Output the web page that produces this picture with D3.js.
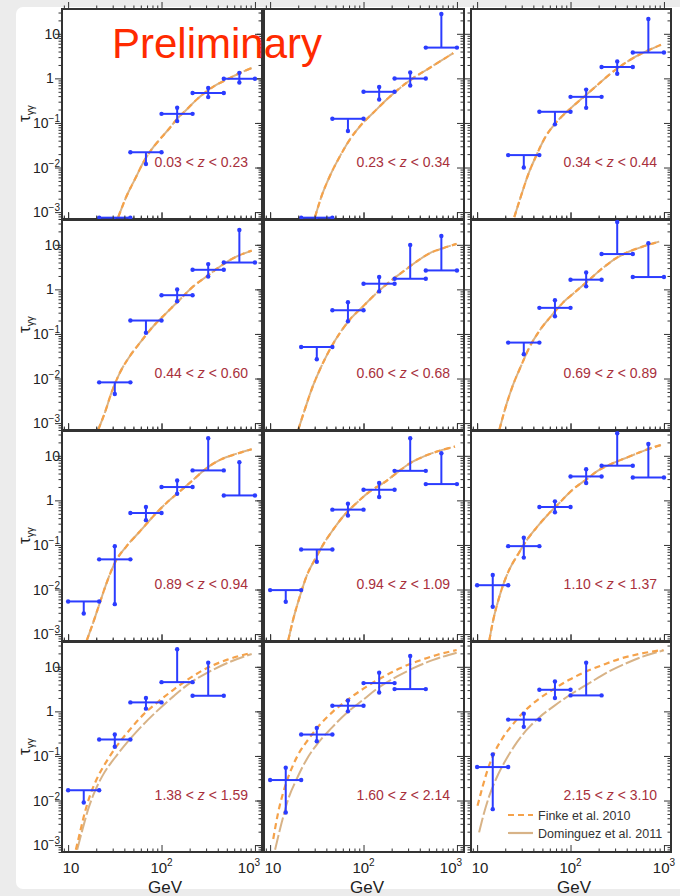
<!DOCTYPE html>
<html lang="en">
<head>
<meta charset="UTF-8">
<title>tau gamma gamma vs redshift bins</title>
<script src="https://d3js.org/d3.v7.min.js"></script>
<style>
body { margin: 0; background: #fff; }
svg { display: block; }
text { font-family: "Liberation Sans", Arial, Helvetica, sans-serif; }
</style>
</head>
<body>
<svg width="680" height="896"></svg>
<script>
// energy bins (GeV)
const binEdges = [10, 21.5, 46.4, 100, 215, 464, 1000];
const binCenters = [14.7, 31.6, 68.1, 147, 316, 681];

const zLabels = [
  ["0.03", "0.23"], ["0.23", "0.34"], ["0.34", "0.44"],
  ["0.44", "0.60"], ["0.60", "0.68"], ["0.69", "0.89"],
  ["0.89", "0.94"], ["0.94", "1.09"], ["1.10", "1.37"],
  ["1.38", "1.59"], ["1.60", "2.14"], ["2.15", "3.10"]
];

// [bin, tau, low, high, kind]  kind: p = measured, ul = upper limit, ll = lower limit
const pts1 = [[1, 7.5e-4, 4e-4, null, "ul"], [2, 0.022, 0.012, null, "ul"], [3, 0.16, 0.11, 0.22, "p"], [4, 0.47, 0.38, 0.61, "p"], [5, 0.98, 0.81, 1.33, "p"]];
const pts2 = [[1, 7.5e-4, 4e-4, null, "ul"], [2, 0.124, 0.066, null, "ul"], [3, 0.50, 0.335, 0.64, "p"], [4, 0.99, 0.69, 1.36, "p"], [5, 4.9, null, 27.8, "ll"]];
const pts3 = [[1, 0.019, 0.010, null, "ul"], [2, 0.178, 0.093, null, "ul"], [3, 0.385, 0.218, 0.56, "p"], [4, 1.80, 1.27, 2.4, "p"], [5, 3.8, null, 21.5, "ll"]];
const pts4 = [[1, 0.0082, 0.0045, null, "ul"], [2, 0.20, 0.106, null, "ul"], [3, 0.74, 0.54, 0.99, "p"], [4, 2.75, 1.95, 3.69, "p"], [5, 4.0, null, 21.5, "ll"]];
const pts5 = [[1, 0.051, 0.027, null, "ul"], [2, 0.34, 0.193, 0.513, "p"], [3, 1.34, 0.90, 1.89, "p"], [4, 1.73, null, 9.95, "ll"], [5, 2.66, null, 15.8, "ll"]];
const pts6 = [[1, 0.064, 0.035, null, "ul"], [2, 0.385, 0.25, 0.57, "p"], [3, 1.65, 1.17, 2.4, "p"], [4, 6.2, null, 32.5, "ll"], [5, 1.89, null, 10.9, "ll"]];
const pts7 = [[0, 0.0054, 0.0029, null, "ul"], [1, 0.0475, 0.0047, 0.094, "p"], [2, 0.52, 0.36, 0.71, "p"], [3, 1.99, 1.41, 2.8, "p"], [4, 4.7, null, 24.7, "ll"], [5, 1.29, null, 7.2, "ll"]];
const pts8 = [[0, 0.0097, 0.0053, null, "ul"], [1, 0.079, 0.042, null, "ul"], [2, 0.62, 0.456, 0.845, "p"], [3, 1.73, 1.19, 2.45, "p"], [4, 4.6, null, 24.7, "ll"], [5, 2.32, null, 11.4, "ll"]];
const pts9 = [[0, 0.0125, 0.0041, 0.0212, "p"], [1, 0.094, 0.052, 0.145, "p"], [2, 0.71, 0.54, 0.95, "p"], [3, 3.44, 2.45, 5.0, "p"], [4, 6.0, null, 32, "ll"], [5, 3.26, null, 18.4, "ll"]];
const pts10 = [[0, 0.017, 0.009, null, "ul"], [1, 0.234, 0.161, 0.302, "p"], [2, 1.59, 1.15, 1.99, "p"], [3, 4.53, null, 24.7, "ll"], [4, 2.24, null, 12.4, "ll"]];
const pts11 = [[0, 0.0288, 0.0054, 0.0546, "p"], [1, 0.302, 0.214, 0.426, "p"], [2, 1.34, 1.0, 1.76, "p"], [3, 4.31, 2.66, 7.4, "p"], [4, 3.16, null, 17.5, "ll"]];
const pts12 = [[0, 0.0563, 0.0064, 0.108, "p"], [1, 0.653, 0.449, 0.89, "p"], [2, 3.05, 1.99, 4.68, "p"], [3, 2.28, null, 12.4, "ll"]];

// model curves [E, tau]; for z < 1.37 both models lie on top of each other
const model1 = [[34.4, 7.7e-4], [42.3, 2.3e-3], [52, 5.5e-3], [63.7, 0.0129], [78.4, 0.0256], [96, 0.043], [123, 0.078], [145, 0.12], [186, 0.20], [238, 0.335], [304, 0.51], [389, 0.72], [540, 1.02], [691, 1.32], [923, 1.71]];
const model2 = [[30.2, 7.7e-4], [35.6, 2.3e-3], [43.7, 6.5e-3], [56, 0.018], [71.6, 0.043], [95.5, 0.093], [127, 0.169], [177, 0.335], [246, 0.61], [341, 1.02], [474, 1.56], [658, 2.4], [914, 3.69]];
const model3 = [[25, 7.7e-4], [29.5, 2.3e-3], [34.8, 6.5e-3], [42.7, 0.018], [54.6, 0.051], [69.8, 0.101], [97, 0.20], [135, 0.366], [187, 0.663], [260, 1.21], [361, 2.02], [502, 3.1], [697, 4.37], [929, 5.65]];
const model4 = [[21, 7.1e-4], [24.8, 1.74e-3], [29.2, 4.9e-3], [35.9, 0.0136], [45.9, 0.032], [58.8, 0.0636], [81.6, 0.149], [113, 0.297], [157, 0.589], [219, 1.17], [304, 1.95], [423, 3.26], [586, 5.0], [923, 7.4]];
const model5 = [[20, 7.1e-4], [23.6, 2.06e-3], [27.9, 5.8e-3], [34.2, 0.0161], [43.7, 0.0451], [56, 0.106], [71.6, 0.211], [99, 0.418], [138, 0.83], [192, 1.51], [266, 2.52], [370, 4.22], [514, 6.5], [713, 8.4], [991, 10.5]];
const model6 = [[17.3, 7.1e-4], [20.4, 2.45e-3], [24, 6.8e-3], [29.5, 0.0191], [36.1, 0.049], [46.2, 0.116], [61.8, 0.25], [82.4, 0.497], [114, 0.90], [159, 1.65], [221, 3.0], [307, 5.0], [426, 7.06], [591, 9.1], [891, 11.8]];
const model7 = [[15.8, 7.1e-4], [18.6, 1.84e-3], [21.9, 5.1e-3], [25.9, 0.0143], [31.7, 0.040], [42.3, 0.094], [58.8, 0.203], [81.6, 0.44], [113, 0.875], [157, 1.59], [219, 2.9], [304, 5.3], [423, 8.1], [586, 10.5], [923, 14.0]];
const model8 = [[15.6, 7.1e-4], [17.7, 2.17e-3], [20.9, 7.2e-3], [24.6, 0.0201], [30.2, 0.0475], [37.1, 0.103], [47.4, 0.222], [60.7, 0.44], [84.3, 0.875], [117, 1.59], [163, 2.45], [226, 4.1], [314, 6.8], [437, 9.6], [607, 12.4], [953, 16.1]];
const model9 = [[13.5, 7.1e-4], [14.7, 1.84e-3], [16.6, 5.1e-3], [18.8, 0.0119], [22.1, 0.028], [27.2, 0.060], [33.3, 0.12], [42.7, 0.237], [56.9, 0.472], [75.9, 0.875], [105, 1.73], [146, 2.9], [203, 4.84], [283, 6.8], [426, 9.6], [643, 13.6], [929, 17.5]];

const finke10 = [[12.1, 7.9e-4], [13.4, 1.93e-3], [15.1, 5.4e-3], [17.1, 0.0127], [20.2, 0.030], [25.9, 0.0767], [33.1, 0.166], [45.9, 0.391], [63.8, 0.845], [88.7, 1.54], [134, 3.05], [201, 5.57], [304, 9.3], [498, 14.3], [923, 20.7]];
const dom10 = [[12.5, 7.9e-4], [14.3, 2.29e-3], [16.4, 6.4e-3], [19.4, 0.0164], [23.8, 0.0386], [31.7, 0.0912], [44, 0.214], [61.2, 0.463], [88.7, 1.0], [134, 2.17], [201, 4.3], [304, 7.2], [498, 12.0], [923, 19.4]];
const finke11 = [[10.8, 1.37e-3], [12.2, 5.4e-3], [13.8, 0.0151], [16.3, 0.042], [20, 0.108], [25.6, 0.233], [34.2, 0.505], [47.4, 1.0], [71.6, 1.99], [108, 3.6], [163, 6.0], [246, 9.3], [371, 13.1], [607, 18.4], [993, 23.8]];
const dom11 = [[11.3, 7.9e-4], [13.3, 3.2e-3], [15.6, 0.0107], [19.2, 0.030], [24.6, 0.0836], [32.7, 0.197], [45.6, 0.427], [65.9, 0.92], [99, 1.82], [150, 3.6], [226, 6.0], [341, 9.3], [558, 14.3], [993, 20.7]];
const finke12 = [[10.1, 7.6e-3], [11.5, 0.0212], [13, 0.050], [15.3, 0.118], [18.8, 0.255], [24, 0.505], [32, 1.0], [44.5, 1.82], [64.4, 3.05], [96.8, 5.1], [146, 7.8], [221, 11.0], [333, 15.0], [545, 19.4], [968, 23.8]];
const dom12 = [[10.5, 1.93e-3], [11.9, 5.4e-3], [13.5, 0.0127], [15.9, 0.030], [19.5, 0.0705], [25, 0.166], [33.3, 0.368], [46.2, 0.731], [67, 1.33], [101, 2.42], [159, 4.3], [239, 7.2], [361, 11.0], [591, 16.9], [1000, 23.5]];

const yLabels = [[10, "10", ""], [1, "1", ""], [0.1, "10", "\u22121"], [0.01, "10", "\u22122"], [0.001, "10", "\u22123"]];
const xLabels = [[10, "10", ""], [100, "10", "2"], [1000, "10", "3"]];

const allPts = [pts1, pts2, pts3, pts4, pts5, pts6, pts7, pts8, pts9, pts10, pts11, pts12];
const finke = [model1, model2, model3, model4, model5, model6, model7, model8, model9, finke10, finke11, finke12];
const dominguez = [model1, model2, model3, model4, model5, model6, model7, model8, model9, dom10, dom11, dom12];

const W = 200, H = 210;
const colLeft = [62, 264, 471];
const rowTop = [9, 220, 431, 642];
const blue = "#2b3cff", finkeCol = "#f5a24a", domCol = "#d8b387";

const svg = d3.select("svg");

// photo-like slide background
svg.append("rect").attr("width", 680).attr("height", 896).attr("fill", "#ececec");
svg.append("rect").attr("x", 16).attr("y", 7).attr("width", 670).attr("height", 882)
   .attr("rx", 7).attr("fill", "#fff");
const defs = svg.append("defs");
defs.append("filter").attr("id", "blur").append("feGaussianBlur").attr("stdDeviation", 1.4);
svg.append("line").attr("x1", 30).attr("x2", 680).attr("y1", 891).attr("y2", 891)
   .attr("stroke", "#8a8a8a").attr("stroke-width", 3).attr("filter", "url(#blur)");

const x = d3.scaleLog().domain([8.6, 1190]).range([0, W]);
const y = d3.scaleLog().domain([7e-4, 36]).range([H, 0]);
const isDecade = v => Math.abs(Math.log10(v) - Math.round(Math.log10(v))) < 1e-6;
const xMajor = x.ticks().filter(isDecade), xMinor = x.ticks().filter(v => !isDecade(v));
const yMajor = y.ticks().filter(isDecade), yMinor = y.ticks().filter(v => !isDecade(v));

const line = d3.line().x(d => x(d[0])).y(d => y(d[1])).curve(d3.curveMonotoneX);

function ticks(g, axis, scale, values, size, tr) {
  const a = g.append("g").attr("transform", tr)
    .call(axis(scale).tickValues(values).tickSize(-size).tickFormat(""));
  a.select(".domain").remove();
  a.selectAll("line").attr("stroke", "#333").attr("stroke-width", 1);
}

for (let i = 0; i < 12; i++) {
  const row = Math.floor(i / 3), col = i % 3;
  const g = svg.append("g").attr("transform", `translate(${colLeft[col]},${rowTop[row]})`);

  g.append("rect").attr("width", W).attr("height", H).attr("fill", "#fff");
  defs.append("clipPath").attr("id", "clip" + i)
      .append("rect").attr("width", W).attr("height", H);

  // models
  const cg = g.append("g").attr("clip-path", `url(#clip${i})`);
  cg.append("path").attr("d", line(dominguez[i])).attr("fill", "none")
    .attr("stroke", domCol).attr("stroke-width", 2).attr("stroke-dasharray", "15,3");
  cg.append("path").attr("d", line(finke[i])).attr("fill", "none")
    .attr("stroke", finkeCol).attr("stroke-width", 2.2).attr("stroke-dasharray", "6,4");

  // inward ticks on all four sides
  [[d3.axisBottom, `translate(0,${H})`], [d3.axisTop, "translate(0,0)"]].forEach(([ax, tr]) => {
    ticks(g, ax, x, xMajor, ax === d3.axisTop ? -7 : 7, tr);
    ticks(g, ax, x, xMinor, ax === d3.axisTop ? -3.5 : 3.5, tr);
  });
  [[d3.axisLeft, "translate(0,0)"], [d3.axisRight, `translate(${W},0)`]].forEach(([ax, tr]) => {
    ticks(g, ax, y, yMajor, ax === d3.axisRight ? 7 : -7, tr);
    ticks(g, ax, y, yMinor, ax === d3.axisRight ? 3.5 : -3.5, tr);
  });

  g.append("rect").attr("width", W).attr("height", H).attr("fill", "none")
   .attr("stroke", "#333").attr("stroke-width", 2);

  // data
  const seg = (x1, y1, x2, y2) => g.append("line").attr("x1", x1).attr("y1", y1)
      .attr("x2", x2).attr("y2", y2).attr("stroke", blue).attr("stroke-width", 2);
  const dot = (cx, cy) => g.append("circle").attr("cx", cx).attr("cy", cy).attr("r", 2.2).attr("fill", blue);
  allPts[i].forEach(([b, v, lo, hi, kind]) => {
    const x0 = x(binEdges[b]), x1 = x(binEdges[b + 1]), xc = x(binCenters[b]), yv = y(v);
    seg(x0, yv, x1, yv); dot(x0, yv); dot(x1, yv);
    if (kind === "p") {
      seg(xc, y(lo), xc, y(hi)); dot(xc, y(lo)); dot(xc, y(hi));
    } else if (kind === "ul") {
      seg(xc, yv, xc, y(lo)); dot(xc, y(lo));
    } else {
      seg(xc, yv, xc, y(hi)); dot(xc, y(hi));
    }
  });

  // redshift label
  const t = g.append("text").attr("x", W - 14).attr("y", 158).attr("text-anchor", "end")
    .attr("font-size", 14).attr("fill", "#a8303c");
  t.append("tspan").text(zLabels[i][0] + " < ");
  t.append("tspan").attr("font-style", "italic").text("z");
  t.append("tspan").text(" < " + zLabels[i][1]);

  // y labels + title on left column
  if (col === 0) {
    yLabels.forEach(([v, base, sup]) => {
      const lt = g.append("text").attr("y", y(v) + 5).attr("font-size", 14).attr("fill", "#222")
        .attr("x", v === 1 ? -12 : -2).attr("text-anchor", v === 1 ? "middle" : "end");
      lt.append("tspan").text(base);
      if (sup) lt.append("tspan").attr("dy", -6).attr("font-size", 10).text(sup);
    });
    const tt = g.append("text").attr("transform", `translate(-32,${113})rotate(-90)`)
      .attr("font-size", 17).attr("fill", "#222");
    tt.append("tspan").text("\u03c4");
    tt.append("tspan").attr("dy", 4).attr("font-size", 10).text("\u03b3\u03b3");
  }

  // x labels on bottom row
  if (row === 3) {
    xLabels.forEach(([v, base, sup], k) => {
      const shift = k === 0 ? 3 : (k === 2 && col < 2 ? -6 : 0);
      const lt = g.append("text").attr("x", x(v) + shift).attr("y", H + 21)
        .attr("text-anchor", "middle").attr("font-size", 15).attr("fill", "#222");
      lt.append("tspan").text(base);
      if (sup) lt.append("tspan").attr("dy", -7).attr("font-size", 10).text(sup);
    });
    g.append("text").attr("x", 103).attr("y", H + 41).attr("text-anchor", "middle")
     .attr("font-size", 17).attr("fill", "#222").text("GeV");
  }

  // legend in the last panel
  if (i === 11) {
    [["Finke et al. 2010", finkeCol, "6,4"], ["Dominguez et al. 2011", domCol, "30,3"]].forEach(([name, c, dash], k) => {
      const ly = 173 + k * 18;
      g.append("line").attr("x1", 37).attr("x2", 62).attr("y1", ly).attr("y2", ly)
       .attr("stroke", c).attr("stroke-width", 2.2).attr("stroke-dasharray", dash);
      g.append("text").attr("x", 67).attr("y", ly + 4.5).attr("font-size", 12.5)
       .attr("fill", "#333").text(name);
    });
  }
}

svg.append("text").attr("x", 112).attr("y", 58).attr("font-size", 42)
   .attr("fill", "#ff2a00").text("Preliminary");
</script>
</body>
</html>
